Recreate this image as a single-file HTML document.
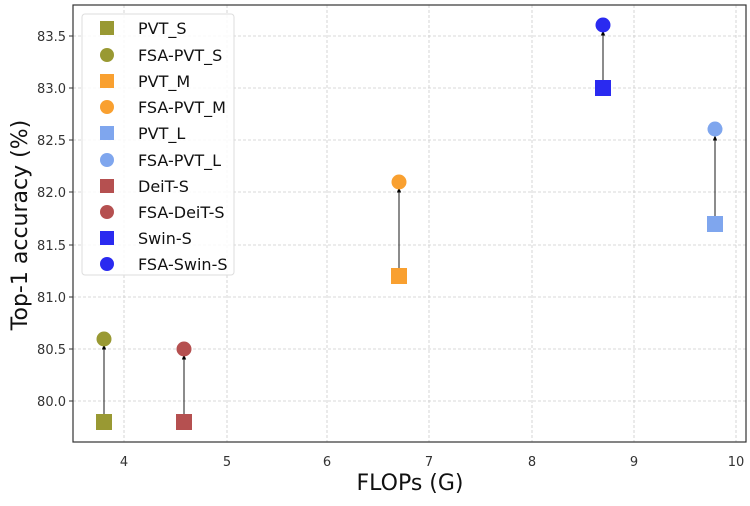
<!DOCTYPE html>
<html><head><style>body{margin:0;background:#fff}</style></head><body>
<svg width="750" height="501" xmlns="http://www.w3.org/2000/svg" font-family="DejaVu Sans, Liberation Sans, sans-serif">
<defs><marker id="ah" markerWidth="6" markerHeight="6" refX="3" refY="3" orient="auto"><path d="M0,0.5 L6,3 L0,5.5 z" fill="#000"/></marker></defs>
<rect x="0" y="0" width="750" height="501" fill="#fff"/>
<g stroke="#ccc" stroke-dasharray="3,2" stroke-width="0.8">
<line x1="124" y1="5" x2="124" y2="442"/><line x1="227" y1="5" x2="227" y2="442"/><line x1="327" y1="5" x2="327" y2="442"/><line x1="429" y1="5" x2="429" y2="442"/><line x1="532" y1="5" x2="532" y2="442"/><line x1="634" y1="5" x2="634" y2="442"/><line x1="736" y1="5" x2="736" y2="442"/>
<line x1="73" y1="401" x2="746" y2="401"/><line x1="73" y1="349" x2="746" y2="349"/><line x1="73" y1="297" x2="746" y2="297"/><line x1="73" y1="245" x2="746" y2="245"/><line x1="73" y1="192" x2="746" y2="192"/><line x1="73" y1="140" x2="746" y2="140"/><line x1="73" y1="88" x2="746" y2="88"/><line x1="73" y1="36" x2="746" y2="36"/>
</g>
<rect x="73" y="5" width="673" height="437" fill="none" stroke="#333" stroke-width="1.2"/>
<g font-size="13" fill="#333" text-anchor="middle">
<text x="124" y="466">4</text><text x="227" y="466">5</text><text x="327" y="466">6</text><text x="429" y="466">7</text><text x="532" y="466">8</text><text x="634" y="466">9</text><text x="736" y="466">10</text>
</g>
<g font-size="13" fill="#333" text-anchor="end">
<text x="66" y="406">80.0</text><text x="66" y="354">80.5</text><text x="66" y="302">81.0</text><text x="66" y="250">81.5</text><text x="66" y="197">82.0</text><text x="66" y="145">82.5</text><text x="66" y="93">83.0</text><text x="66" y="41">83.5</text>
</g>
<g stroke="#333" stroke-width="1"><line x1="69" y1="401" x2="73" y2="401"/><line x1="69" y1="349" x2="73" y2="349"/><line x1="69" y1="297" x2="73" y2="297"/><line x1="69" y1="245" x2="73" y2="245"/><line x1="69" y1="192" x2="73" y2="192"/><line x1="69" y1="140" x2="73" y2="140"/><line x1="69" y1="88" x2="73" y2="88"/><line x1="69" y1="36" x2="73" y2="36"/></g>
<text x="410" y="490" font-size="22" text-anchor="middle" fill="#111">FLOPs (G)</text>
<text transform="translate(27,225) rotate(-90)" font-size="22" text-anchor="middle" fill="#111">Top-1 accuracy (%)</text>
<g stroke="#000" stroke-width="0.9" marker-end="url(#ah)">
<line x1="104" y1="416" x2="104" y2="347"/>
<line x1="184" y1="416" x2="184" y2="357"/>
<line x1="399" y1="270" x2="399" y2="190"/>
<line x1="603" y1="82" x2="603" y2="33"/>
<line x1="715" y1="218" x2="715" y2="138"/>
</g>
<rect x="96" y="414" width="16" height="16" fill="#999933"/><circle cx="104" cy="339" r="7.5" fill="#999933"/>
<rect x="176" y="414" width="16" height="16" fill="#b55050"/><circle cx="184" cy="349" r="7.5" fill="#b55050"/>
<rect x="391" y="268" width="16" height="16" fill="#f9a030"/><circle cx="399" cy="182" r="7.5" fill="#f9a030"/>
<rect x="595" y="80" width="16" height="16" fill="#2a2af0"/><circle cx="603" cy="25" r="7.5" fill="#2a2af0"/>
<rect x="707" y="216" width="16" height="16" fill="#7fa6ee"/><circle cx="715" cy="129" r="7.5" fill="#7fa6ee"/>
<rect x="82" y="14" width="152" height="261" rx="3" fill="#fff" fill-opacity="0.85" stroke="#ddd"/>
<g font-size="16" fill="#111">
<rect x="100" y="21" width="14" height="14" fill="#999933"/><text x="138" y="34">PVT_S</text>
<circle cx="107" cy="55" r="7" fill="#999933"/><text x="138" y="61">FSA-PVT_S</text>
<rect x="100" y="74" width="14" height="14" fill="#f9a030"/><text x="138" y="87">PVT_M</text>
<circle cx="107" cy="107" r="7" fill="#f9a030"/><text x="138" y="113">FSA-PVT_M</text>
<rect x="100" y="126" width="14" height="14" fill="#7fa6ee"/><text x="138" y="139">PVT_L</text>
<circle cx="107" cy="160" r="7" fill="#7fa6ee"/><text x="138" y="166">FSA-PVT_L</text>
<rect x="100" y="179" width="14" height="14" fill="#b55050"/><text x="138" y="192">DeiT-S</text>
<circle cx="107" cy="212" r="7" fill="#b55050"/><text x="138" y="218">FSA-DeiT-S</text>
<rect x="100" y="231" width="14" height="14" fill="#2a2af0"/><text x="138" y="244">Swin-S</text>
<circle cx="107" cy="264" r="7" fill="#2a2af0"/><text x="138" y="270">FSA-Swin-S</text>
</g>
</svg>
</body></html>
